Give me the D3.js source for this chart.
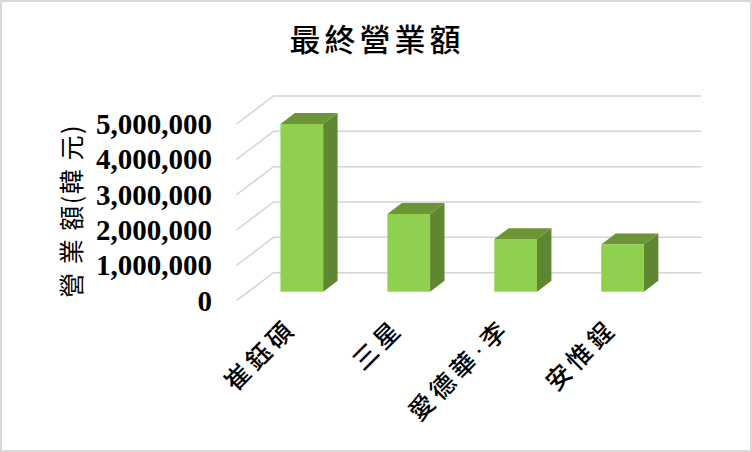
<!DOCTYPE html>
<html>
<head>
<meta charset="utf-8">
<script src="https://cdnjs.cloudflare.com/ajax/libs/d3/7.8.5/d3.min.js"></script>
<style>
  html, body { margin: 0; padding: 0; background: #fff; }
  svg { display: block; }
</style>
</head>
<body>
<div id="graph"></div>
<script>
const categories = ['崔鈺碩', '三星', '愛德華·李', '安惟鋥'];
const values = [4750000, 2200000, 1490000, 1340000];
const tickValues = [0, 1000000, 2000000, 3000000, 4000000, 5000000];
const chartTitle = '最終營業額';
const yTitle = '營 業 額(韓 元)';

const svgWidth = 752, svgHeight = 452;
const cjk = '"Noto Sans CJK TC", "Noto Sans CJK SC", sans-serif';
const serif = '"Liberation Serif", "Noto Sans CJK TC", serif';

const svg = d3.select('#graph')
  .append('svg')
  .attr('width', svgWidth)
  .attr('height', svgHeight);

svg.append('rect')
  .attr('x', 1).attr('y', 1)
  .attr('width', svgWidth - 2).attr('height', svgHeight - 2)
  .attr('fill', '#fff')
  .attr('stroke', '#d9d9d9')
  .attr('stroke-width', 2);

// scales work on the front plane, depth shifts a point up and right
const xScale = d3.scaleBand().domain(categories).range([236.5, 664.2]);
const yScale = d3.scaleLinear().domain([0, 5000000]).range([300.7, 124]);
const depthX = d3.scaleLinear().domain([0, 1]).range([0, 37]);
const depthY = d3.scaleLinear().domain([0, 1]).range([0, -28]);

const barWidth = 42.7;
const barFront = 0.32, barBack = 0.71;

const pt = (x, v, z) => [x + depthX(z), yScale(v) + depthY(z)];
const poly = pts => pts.map(p => p.join(',')).join(' ');

// gridlines: side wall + back wall
const grid = svg.append('g');
tickValues.forEach(t => {
  const a = pt(xScale.range()[0], t, 0);
  const b = pt(xScale.range()[0], t, 1);
  const c = pt(xScale.range()[1], t, 1);
  grid.append('polyline')
    .attr('points', poly([a, b, c]))
    .attr('fill', 'none')
    .attr('stroke', '#d4d4d4')
    .attr('stroke-width', 1.5);
});

const bars = svg.append('g')
  .selectAll('g')
  .data(categories.map((c, i) => ({ name: c, value: values[i] })))
  .enter().append('g');

const barLeft = d => xScale(d.name) + (xScale.bandwidth() - barWidth) / 2;

// side face
bars.append('polygon')
  .attr('fill', '#5f8630')
  .attr('points', d => {
    const r = barLeft(d) + barWidth;
    return poly([pt(r, 0, barFront), pt(r, 0, barBack), pt(r, d.value, barBack), pt(r, d.value, barFront)]);
  });

// top face
bars.append('polygon')
  .attr('fill', '#6c9636')
  .attr('points', d => {
    const l = barLeft(d), r = l + barWidth;
    return poly([pt(l, d.value, barFront), pt(r, d.value, barFront), pt(r, d.value, barBack), pt(l, d.value, barBack)]);
  });

// front face
bars.append('polygon')
  .attr('fill', '#8fd14f')
  .attr('points', d => {
    const l = barLeft(d), r = l + barWidth;
    return poly([pt(l, 0, barFront), pt(r, 0, barFront), pt(r, d.value, barFront), pt(l, d.value, barFront)]);
  });

// y axis, no line or tick marks, only labels
const yAxis = svg.append('g')
  .attr('transform', 'translate(212,0)')
  .call(d3.axisLeft(yScale).tickValues(tickValues).tickFormat(d3.format(',')).tickSize(0).tickPadding(0));
yAxis.select('.domain').remove();
yAxis.selectAll('text')
  .attr('font-family', serif)
  .attr('font-weight', 'bold')
  .attr('font-size', 29)
  .attr('fill', '#000')
  .attr('dy', '0.33em');

// x labels rotated -45, serif first so the middle dot stays narrow
svg.append('g')
  .selectAll('text')
  .data(categories)
  .enter().append('text')
  .attr('text-anchor', 'end')
  .attr('font-family', serif)
  .attr('font-weight', 500)
  .attr('font-size', 25)
  .attr('fill', '#000')
  .attr('letter-spacing', 4.5)
  .attr('transform', d => `translate(${xScale(d) + xScale.bandwidth() / 2 + 8},330) rotate(-45)`)
  .text(d => d);

svg.append('text')
  .attr('x', 377).attr('y', 51)
  .attr('text-anchor', 'middle')
  .attr('font-family', cjk)
  .attr('font-weight', 500)
  .attr('font-size', 31)
  .attr('letter-spacing', 4)
  .attr('fill', '#000')
  .text(chartTitle);

svg.append('text')
  .attr('transform', 'translate(70,211) rotate(-90)')
  .attr('text-anchor', 'middle')
  .attr('dominant-baseline', 'central')
  .attr('font-family', cjk)
  .attr('font-size', 25)
  .attr('letter-spacing', 1.5)
  .attr('fill', '#000')
  .text(yTitle);
</script>
</body>
</html>
